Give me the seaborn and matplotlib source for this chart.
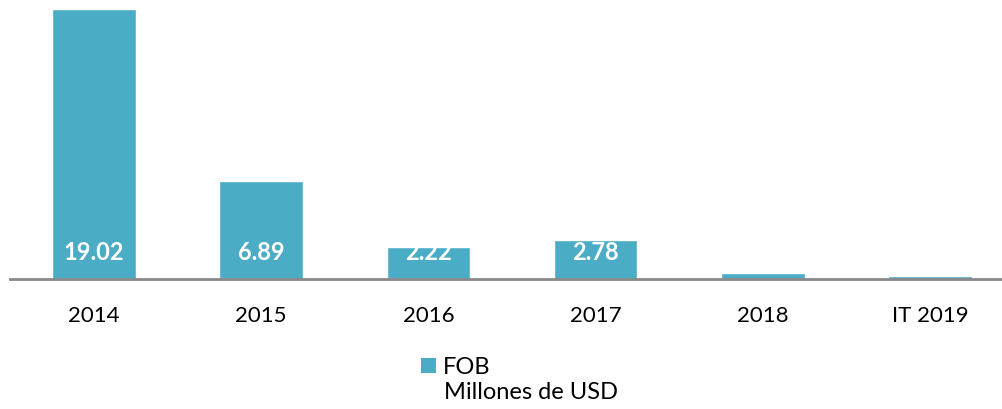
import matplotlib
matplotlib.use("Agg")
import matplotlib.pyplot as plt
import seaborn as sns
import pandas as pd
from matplotlib.patches import Patch

categories = ["2014", "2015", "2016", "2017", "2018", "IT 2019"]
values = [19.02, 6.89, 2.22, 2.78, 0.42, 0.20]
labels = ["19.02", "6.89", "2.22", "2.78", "", ""]

sns.set_theme(style="white")
plt.rcParams['font.family'] = ['Lato', 'DejaVu Sans']

BAR = "#4BACC6"
df = pd.DataFrame({"cat": categories, "val": values})

fig = plt.figure(figsize=(10.03, 4.10), dpi=100)
ax = fig.add_axes([10/1003, 1 - 280/410, 1004/1003, 283.9/410])
sns.barplot(data=df, x="cat", y="val", color=BAR, width=0.5, saturation=1, ax=ax)
ax.set_xlim(-0.5, 5.5)
ax.set_ylim(0, 20)
for s in ["top", "right", "left"]:
    ax.spines[s].set_visible(False)
ax.spines["bottom"].set_color("#898989")
ax.spines["bottom"].set_linewidth(2)
ax.set_yticks([])
ax.set_xlabel("")
ax.set_ylabel("")
ax.tick_params(axis="x", length=0, pad=19, labelsize=16, colors="#000000")

for i, lab in enumerate(labels):
    if lab:
        ax.annotate(lab, xy=(i, 0), xytext=(0, 28), textcoords="offset pixels",
                    ha="center", va="center", color="white", fontsize=17,
                    fontweight="bold")
        t = ax.texts[-1]
        t.set_clip_path(ax.patches[i])

handle = Patch(facecolor=BAR, edgecolor="none")
leg = fig.legend([handle], ["FOB"], loc="center left", bbox_to_anchor=(421/1003, 1 - 368/410),
                 frameon=False, fontsize=17, handlelength=0.62, handleheight=0.62,
                 handletextpad=0.3, borderaxespad=0, borderpad=0)
for t in leg.get_texts():
    t.set_color("#000000")
fig.text(444/1003, 1 - 393/410, "Millones de USD", fontsize=17, ha="left", va="center", color="#000000")

fig.savefig("out.png", dpi=100)
